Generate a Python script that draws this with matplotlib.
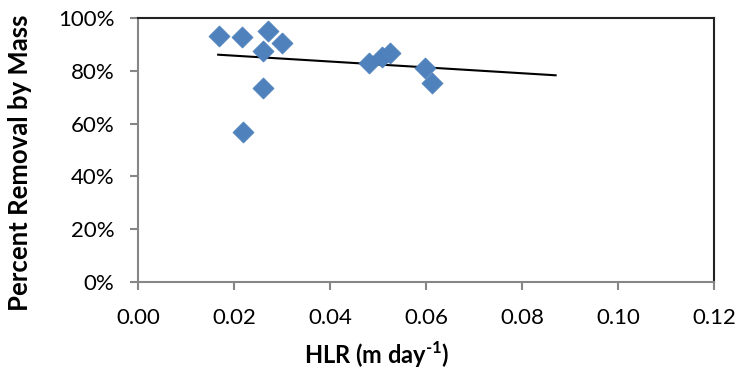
import numpy as np
import matplotlib
matplotlib.use('Agg')
import matplotlib.pyplot as plt
from matplotlib.ticker import PercentFormatter

plt.rcParams['font.family'] = ['Lato', 'DejaVu Sans']
plt.rcParams['mathtext.fontset'] = 'custom'
plt.rcParams['mathtext.rm'] = 'Lato:bold'
plt.rcParams['mathtext.bf'] = 'Lato:bold'

# data
hlr = [0.0169, 0.0217, 0.0271, 0.0299, 0.0261, 0.0261, 0.0218,
       0.0482, 0.0508, 0.0525, 0.0598, 0.0612]
removal = [0.932, 0.928, 0.952, 0.906, 0.876, 0.736, 0.569,
           0.828, 0.853, 0.869, 0.812, 0.753]
trend_x = [0.0167, 0.0870]
trend_y = [0.861, 0.783]

xticks = [0.00, 0.02, 0.04, 0.06, 0.08, 0.10, 0.12]
yticks = [0, 0.2, 0.4, 0.6, 0.8, 1.0]

fig = plt.figure(figsize=(7.4, 3.69), dpi=100)
ax = fig.add_axes([0.1865, 0.2358, 0.7784, 0.7154])

ax.scatter(hlr, removal, marker='D', s=115, color='#4F81BD',
           edgecolor='#4A7EBB', linewidth=0.5, zorder=3)
ax.plot(trend_x, trend_y, color='black', lw=1.5, zorder=2)

ax.set_xlim(0, 0.12)
ax.set_ylim(0, 1.0)
ax.set_xticks(xticks)
ax.set_xticklabels(['%.2f' % v for v in xticks])
ax.set_yticks(yticks)
ax.yaxis.set_major_formatter(PercentFormatter(1.0, decimals=0))

gray = '#868686'
for s in ['left', 'bottom']:
	ax.spines[s].set_color(gray)
	ax.spines[s].set_linewidth(1.5)
for s in ['top', 'right']:
	ax.spines[s].set_color('#222222')
	ax.spines[s].set_linewidth(1.5)
ax.tick_params(direction='out', length=6, width=1.5, color=gray,
               labelsize=16)
ax.tick_params(axis='x', pad=13)
ax.tick_params(axis='y', pad=11)

ax.set_xlabel(r'HLR (m day$^{\text{-}1}$)', fontsize=17, fontweight='bold')
ax.set_ylabel('Percent Removal by Mass', fontsize=18.5, fontweight='bold')
ax.xaxis.set_label_coords(0.414, -0.22)
ax.yaxis.set_label_coords(-0.184, 0.453)

plt.savefig('out.png', dpi=100)
plt.close()
